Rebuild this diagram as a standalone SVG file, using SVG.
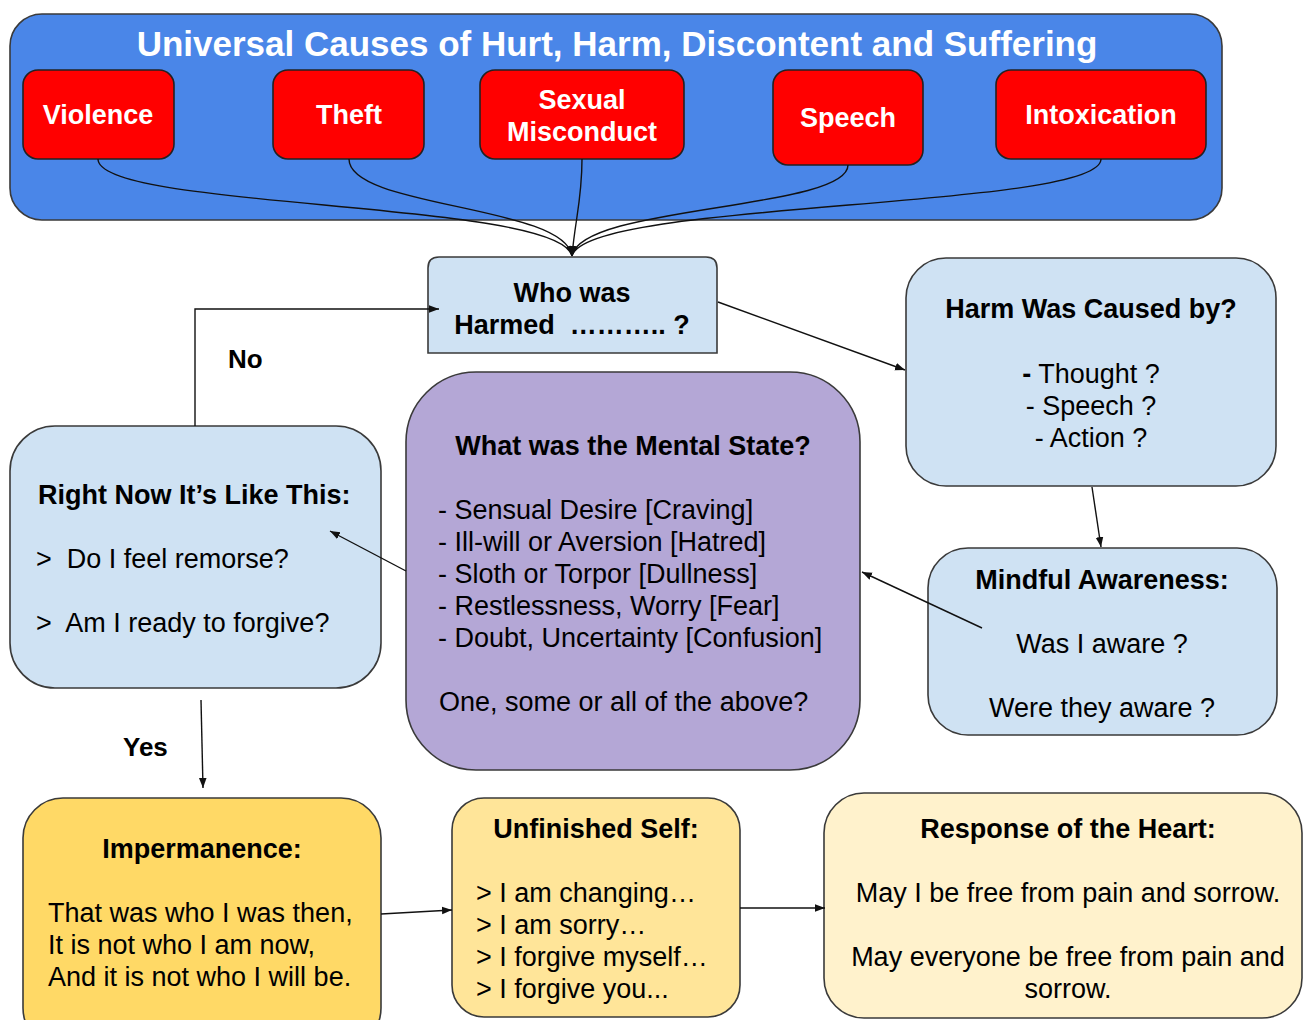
<svg xmlns="http://www.w3.org/2000/svg" width="1303" height="1020" viewBox="0 0 1303 1020">
<style>
text{font-family:"Liberation Sans",Arial,sans-serif;font-size:27px;fill:#000}
.b{font-weight:bold}
.c{text-anchor:middle}
.w{fill:#fff}
.t{font-size:35px}
.s{font-size:26px}
.box{stroke:#3a3a3a;stroke-width:1.6}
.red{fill:#ff0000;stroke:#222;stroke-width:1.6}
.lb{fill:#cfe2f3}
.conn{fill:none;stroke:#111;stroke-width:1.4;marker-end:url(#ah)}
</style>
<defs>
<marker id="ah" viewBox="0 0 10 10" refX="10" refY="5" markerWidth="10" markerHeight="10" markerUnits="userSpaceOnUse" orient="auto">
<path d="M0,1.2 L10,5 L0,8.8 z" fill="#111"/>
</marker>
</defs>
<rect width="1303" height="1020" fill="#fff"/>

<g id="causes">
<rect class="box" x="10" y="14" width="1212" height="206" rx="32" fill="#4a86e8"/>
<text class="b c w t" x="617" y="56">Universal Causes of Hurt, Harm, Discontent and Suffering</text>
</g>
<g id="violence">
<rect class="red" x="23" y="70" width="151" height="89" rx="15"/>
<text class="b c w" x="98" y="124">Violence</text>
</g>
<g id="theft">
<rect class="red" x="273" y="70" width="151" height="89" rx="15"/>
<text class="b c w" x="349" y="124">Theft</text>
</g>
<g id="sexual">
<rect class="red" x="480" y="70" width="204" height="89" rx="15"/>
<text class="b c w" x="582" y="109">Sexual</text>
<text class="b c w" x="582" y="141">Misconduct</text>
</g>
<g id="speech">
<rect class="red" x="773" y="70" width="150" height="95" rx="15"/>
<text class="b c w" x="848" y="127">Speech</text>
</g>
<g id="intoxication">
<rect class="red" x="996" y="70" width="210" height="89" rx="15"/>
<text class="b c w" x="1101" y="124">Intoxication</text>
</g>

<g id="who">
<path class="box lb" d="M428,353 L428,268 Q428,257 439,257 L706,257 Q717,257 717,268 L717,353 Z"/>
<text class="b c" x="572" y="302">Who was</text>
<text class="b c" x="572" y="334" xml:space="preserve">Harmed  ……….. ?</text>
</g>

<g id="harm">
<rect class="box lb" x="906" y="258" width="370" height="228" rx="40"/>
<text class="b c" x="1091" y="318">Harm Was Caused by?</text>
<text class="c" x="1091" y="383"><tspan class="b">-</tspan> Thought ?</text>
<text class="c" x="1091" y="415">- Speech ?</text>
<text class="c" x="1091" y="447">- Action ?</text>
</g>

<g id="mindful">
<rect class="box lb" x="928" y="548" width="349" height="187" rx="40"/>
<text class="b c" x="1102" y="589">Mindful Awareness:</text>
<text class="c" x="1102" y="653">Was I aware ?</text>
<text class="c" x="1102" y="717">Were they aware ?</text>
</g>

<g id="mental">
<rect class="box" x="406" y="372" width="454" height="398" rx="70" fill="#b4a7d6"/>
<text class="b c" x="633" y="455">What was the Mental State?</text>
<text x="438" y="519">- Sensual Desire [Craving]</text>
<text x="438" y="551">- Ill-will or Aversion [Hatred]</text>
<text x="438" y="583">- Sloth or Torpor [Dullness]</text>
<text x="438" y="615">- Restlessness, Worry [Fear]</text>
<text x="438" y="647">- Doubt, Uncertainty [Confusion]</text>
<text x="439" y="711">One, some or all of the above?</text>
</g>

<g id="rightnow">
<rect class="box lb" x="10" y="426" width="371" height="262" rx="45"/>
<text class="b" x="38" y="504">Right Now It’s Like This:</text>
<text x="36" y="568" xml:space="preserve">&gt;  Do I feel remorse?</text>
<text x="36" y="632" xml:space="preserve">&gt;  Am I ready to forgive?</text>
</g>

<g id="impermanence">
<rect class="box" x="23" y="798" width="358" height="250" rx="40" fill="#ffd966"/>
<text class="b c" x="202" y="858">Impermanence:</text>
<text x="48" y="922">That was who I was then,</text>
<text x="48" y="954">It is not who I am now,</text>
<text x="48" y="986">And it is not who I will be.</text>
</g>

<g id="unfinished">
<rect class="box" x="452" y="798" width="288" height="219" rx="32" fill="#ffe599"/>
<text class="b c" x="596" y="838">Unfinished Self:</text>
<text x="476" y="902">&gt; I am changing…</text>
<text x="476" y="934">&gt; I am sorry…</text>
<text x="476" y="966">&gt; I forgive myself…</text>
<text x="476" y="998">&gt; I forgive you...</text>
</g>

<g id="response">
<rect class="box" x="824" y="793" width="478" height="225" rx="40" fill="#fff2cc"/>
<text class="b c" x="1068" y="838">Response of the Heart:</text>
<text class="c" x="1068" y="902">May I be free from pain and sorrow.</text>
<text class="c" x="1068" y="966">May everyone be free from pain and</text>
<text class="c" x="1068" y="998">sorrow.</text>
</g>

<g id="connectors">
<path class="conn" d="M98,159 C98,210 560,200 572,256"/>
<path class="conn" d="M349,159 C349,208 565,205 572,256"/>
<path class="conn" d="M582,159 C582,200 575,220 572,256"/>
<path class="conn" d="M848,165 C848,210 580,205 572,256"/>
<path class="conn" d="M1101,159 C1101,210 585,200 572,256"/>
<path class="conn" d="M718,302 L905,370"/>
<path class="conn" d="M1092,487 L1101,547"/>
<path class="conn" d="M982,628 L862,572"/>
<path class="conn" d="M406,571 L330,531"/>
<path class="conn" d="M195,426 L195,309 L439,309"/>
<path class="conn" d="M201,700 L203,788"/>
<path class="conn" d="M381,914 L452,910"/>
<path class="conn" d="M740,908 L825,908"/>
<text class="b s" x="228" y="368">No</text>
<text class="b s" x="123" y="756">Yes</text>
</g>
</svg>
